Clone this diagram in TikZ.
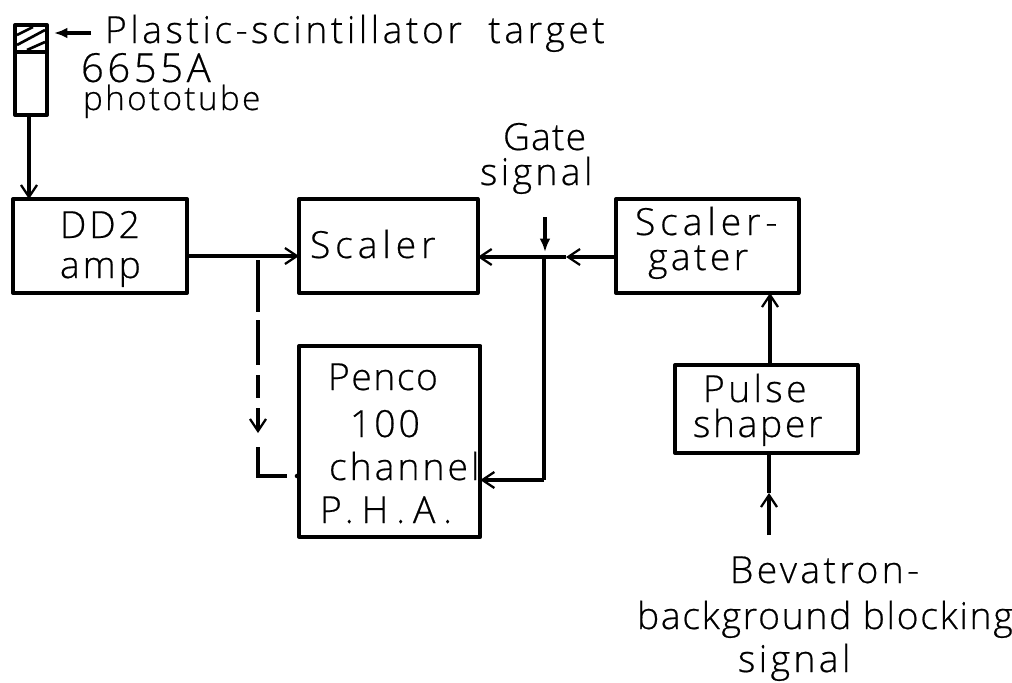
\documentclass[tikz,border=0pt]{standalone}
\usepackage{fontspec}
\setmainfont[FakeBold=0.5]{Open Sans Light}
\usetikzlibrary{arrows.meta}
\newcommand{\Lt}[3]{\fontsize{#1}{#1}\selectfont\addfontfeature{LetterSpace=#2}#3}
\tikzset{
  x=0.75pt,y=-0.75pt,
  bx/.style={draw,line width=3pt,line join=round,inner sep=0pt,outer sep=0pt,anchor=north west},
  wire/.style={line width=2.3pt},
  barb/.style={wire,-{Straight Barb[length=9pt,width=12pt,line width=1.7pt]}},
  solidtip/.style={wire,-{Latex[length=10pt,width=8pt]}},
  lab/.style={inner sep=0pt,outer sep=0pt,anchor=base west},
}
\begin{document}
\begin{tikzpicture}
\useasboundingbox (0,0) rectangle (1012,682);
% phototube
\node[bx,minimum width=24pt,minimum height=67.5pt] (tube) at (15,25) {};
\draw[line width=3pt] (tube.west |- 0,52) -- (tube.east |- 0,52);
\draw[line width=2pt] (17,35) -- (33,27) (17,45) -- (45,30) (27,50) -- (45,42);
% boxes
\node[bx,minimum width=130.5pt,minimum height=70.5pt] (dd) at (13,199) {};
\node[bx,minimum width=134pt,minimum height=70.5pt] (scaler) at (299,199) {};
\node[bx,minimum width=137pt,minimum height=70.5pt] (gater) at (616,199) {};
\node[bx,minimum width=136pt,minimum height=143pt] (penco) at (299,346) {};
\node[bx,minimum width=137pt,minimum height=66pt] (shaper) at (675,365) {};
% text
\node[lab] (t1) at (105,43) {\Lt{28}{9.4}{Plastic-scintillator\ \ target}};
\node[lab] (t2) at (81,82) {\Lt{30}{9}{6655A}};
\node[lab] (t3) at (83,110) {\Lt{25}{7}{phototube}};
\node[lab] (t4) at (60,238) {\Lt{28}{8}{DD2}};
\node[lab] (t5) at (60,278) {\Lt{28}{8}{amp}};
\node[lab] (t6) at (310,258) {\Lt{28}{13}{Scaler}};
\node[lab] (t7) at (635,235) {\Lt{28}{13}{Scaler-}};
\node[lab] (t8) at (648,270) {\Lt{28}{9}{gater}};
\node[lab] (t9) at (328,390) {\Lt{28}{4}{Penco}};
\node[lab] (t10) at (350,437) {\Lt{28}{8}{100}};
\node[lab] (t11) at (329,480) {\Lt{28}{8}{channel}};
\node[lab] (t12) at (320,523) {\Lt{28}{21}{P.H.A.}};
\node[lab] (t13) at (703,402) {\Lt{28}{9}{Pulse}};
\node[lab] (t14) at (693,437) {\Lt{28}{7}{shaper}};
\node[lab] (t15) at (503,150) {\Lt{28}{3}{Gate}};
\node[lab] (t16) at (480,185) {\Lt{28}{9}{signal}};
\node[lab] (t17) at (730,583) {\Lt{28}{9}{Bevatron-}};
\node[lab] (t18) at (637,629) {\Lt{28}{4.5}{background blocking}};
\node[lab] (t19) at (738,672) {\Lt{28}{9}{signal}};
% connectors
\coordinate (arrowL) at (54,33);
\coordinate (arrowR) at (91,33);
\draw[solidtip] (arrowR) -- (arrowL);
\coordinate (feed) at (29,115);
\draw[barb] (feed) -- (feed |- dd.north);
\coordinate (trunkA) at (0,256);
\draw[barb] (dd.east |- trunkA) -- (scaler.west |- trunkA);
\coordinate (jn) at (544,257);
\coordinate (jnmid) at (566,257);
\draw[barb] (gater.west |- jn) -- (jnmid);
\draw[wire] (jnmid) -- (jn);
\draw[barb] (jn) -- (scaler.east |- jn);
\coordinate (gateT) at (545,217);
\coordinate (gateB) at (545,252);
\draw[solidtip] (gateT) -- (gateB);
\coordinate (jnb) at (544,480);
\draw[wire] (jn) -- (jnb);
\draw[barb] (jnb) -- (penco.east |- jnb);
% dashed feed
\coordinate (dA) at (258,260);
\coordinate (dB) at (258,408);
\coordinate (dC) at (258,433);
\draw[wire] (dA) -- (258,312) (258,320) -- (258,365) (258,375) -- (258,398);
\draw[barb] (dB) -- (dC);
\coordinate (elbowT) at (258,447);
\coordinate (elbow) at (258,476);
\coordinate (elbowR) at (287,476);
\draw[wire] (elbowT) -- (elbow) -- (elbowR);
\fill (297,476) circle (1.7pt);
\coordinate (upA) at (770,365);
\draw[barb] (shaper.north -| upA) -- (gater.south -| upA);
\coordinate (botS) at (769,535);
\coordinate (botM) at (769,493);
\draw[barb] (botS) -- (botM);
\draw[wire] (botM) -- (shaper.south -| botM);
\end{tikzpicture}
\end{document}
